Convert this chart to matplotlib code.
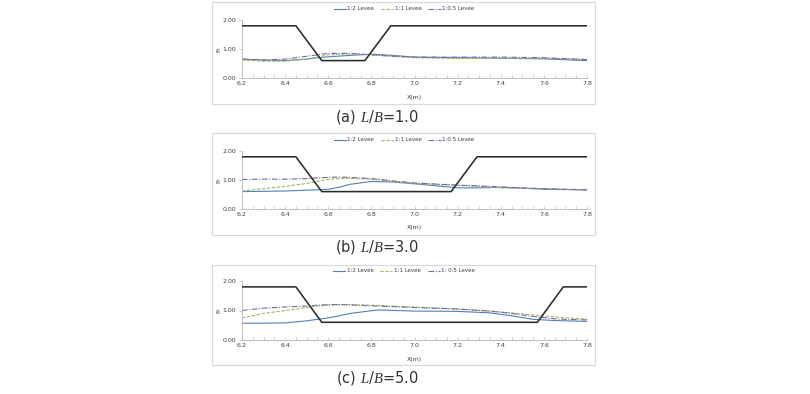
import matplotlib
matplotlib.use("Agg")
import matplotlib.pyplot as plt
from matplotlib.patches import Rectangle
import numpy as np

plt.rcParams['font.family'] = ['DejaVu Sans']
plt.rcParams['mathtext.fontset'] = 'custom'
plt.rcParams['mathtext.it'] = 'Liberation Serif:italic'
plt.rcParams['mathtext.rm'] = 'DejaVu Sans'

W, H = 810, 394

# ---- data ----
levee_x_a = [6.2, 6.45, 6.57, 6.77, 6.89, 7.8]
levee_y_a = [1.8, 1.8, 0.6, 0.6, 1.8, 1.8]
levee_x_b = [6.2, 6.45, 6.57, 7.17, 7.29, 7.8]
levee_y_b = [1.8, 1.8, 0.6, 0.6, 1.8, 1.8]
levee_x_c = [6.2, 6.45, 6.57, 7.57, 7.69, 7.8]
levee_y_c = [1.8, 1.8, 0.6, 0.6, 1.8, 1.8]

xa = [6.2, 6.3, 6.4, 6.5, 6.55, 6.6, 6.7, 6.8, 6.9, 7.0, 7.2, 7.4, 7.6, 7.8]
a_12 = [0.65, 0.62, 0.60, 0.65, 0.70, 0.73, 0.78, 0.82, 0.78, 0.72, 0.70, 0.68, 0.66, 0.60]
a_11 = [0.62, 0.58, 0.58, 0.65, 0.72, 0.80, 0.83, 0.80, 0.75, 0.70, 0.67, 0.68, 0.68, 0.65]
a_105 = [0.65, 0.62, 0.65, 0.75, 0.80, 0.85, 0.85, 0.80, 0.75, 0.72, 0.72, 0.72, 0.70, 0.63]

xb = [6.2, 6.3, 6.4, 6.5, 6.55, 6.6, 6.65, 6.7, 6.8, 6.9, 7.0, 7.1, 7.2, 7.3, 7.4, 7.5, 7.6, 7.8]
b_12 = [0.60, 0.61, 0.62, 0.65, 0.66, 0.68, 0.75, 0.85, 0.95, 0.93, 0.87, 0.80, 0.73, 0.73, 0.75, 0.72, 0.68, 0.66]
b_11 = [0.62, 0.70, 0.78, 0.88, 0.95, 1.02, 1.05, 1.06, 1.03, 0.95, 0.88, 0.85, 0.82, 0.78, 0.73, 0.71, 0.70, 0.66]
b_105 = [1.02, 1.03, 1.03, 1.05, 1.07, 1.09, 1.10, 1.09, 1.05, 0.97, 0.90, 0.86, 0.82, 0.80, 0.76, 0.73, 0.70, 0.66]

xc = [6.2, 6.3, 6.4, 6.5, 6.55, 6.6, 6.65, 6.7, 6.83, 7.0, 7.2, 7.35, 7.45, 7.55, 7.65, 7.7, 7.8]
c_12 = [0.57, 0.57, 0.58, 0.65, 0.70, 0.75, 0.82, 0.90, 1.02, 0.98, 0.97, 0.92, 0.82, 0.70, 0.66, 0.65, 0.63]
c_11 = [0.75, 0.90, 1.00, 1.10, 1.15, 1.18, 1.20, 1.20, 1.17, 1.12, 1.05, 0.98, 0.92, 0.85, 0.78, 0.76, 0.70]
c_105 = [1.00, 1.08, 1.12, 1.15, 1.18, 1.20, 1.20, 1.19, 1.15, 1.10, 1.05, 0.98, 0.90, 0.80, 0.72, 0.70, 0.68]

labels_ab = ["1:2 Levee", "1:1 Levee", "1:0.5 Levee"]
labels_c = ["1:2 Levee", "1:1 Levee", "1: 0.5 Levee"]
captions = ["(a) $\\mathit{L/B}$=1.0", "(b) $\\mathit{L/B}$=3.0", "(c) $\\mathit{L/B}$=5.0"]

panels = [
    dict(lx=levee_x_a, ly=levee_y_a, x=xa, s=[a_12, a_11, a_105], lab=labels_ab, cap=captions[0],
         box=(212, 2, 595, 104), ax_top=20, ax_bot=78, leg=9, xl=97, capy=117),
    dict(lx=levee_x_b, ly=levee_y_b, x=xb, s=[b_12, b_11, b_105], lab=labels_ab, cap=captions[1],
         box=(212, 133, 595, 235), ax_top=151, ax_bot=209, leg=140, xl=228, capy=247),
    dict(lx=levee_x_c, ly=levee_y_c, x=xc, s=[c_12, c_11, c_105], lab=labels_c, cap=captions[2],
         box=(212, 265, 595, 365), ax_top=281, ax_bot=340, leg=271, xl=359, capy=378),
]

colors = ['#4F81BD', '#9BBB59', '#8064A2']
styles = ['-', (0, (3, 1.5)), (0, (5, 1.5, 1, 1.5))]

fig = plt.figure(figsize=(W / 100, H / 100), dpi=100)

AX_L, AX_R = 242, 587

def fx(px):
    return px / W

def fy(py):
    return 1 - py / H

for p in panels:
    x0, y0, x1, y1 = p['box']
    fig.patches.append(Rectangle((fx(x0), fy(y1)), fx(x1 - x0), (y1 - y0) / H,
                                 transform=fig.transFigure, fill=False,
                                 edgecolor='#d9d9d9', linewidth=0.8))
    ax = fig.add_axes([fx(AX_L), fy(p['ax_bot']), fx(AX_R - AX_L), (p['ax_bot'] - p['ax_top']) / H])
    ax.plot(p['lx'], p['ly'], color='#2b2b2b', linewidth=1.15, zorder=3)
    handles = []
    for ser, c, ls, lab in zip(p['s'], colors, styles, p['lab']):
        h, = ax.plot(p['x'], ser, color=c, linestyle=ls, linewidth=0.8, label=lab, zorder=2)
        handles.append(h)
    ax.set_xlim(6.2, 7.8)
    ax.set_ylim(0, 2)
    ticks = np.arange(6.2, 7.81, 0.2)
    ax.set_xticks(ticks)
    ax.set_xticklabels([f"{v:.1f}" for v in ticks])
    ax.set_xticks(np.arange(6.2, 7.81, 0.05), minor=True)
    ax.set_yticks([0, 1, 2])
    ax.set_yticklabels(["0.00", "1.00", "2.00"])
    for s in ['top', 'right']:
        ax.spines[s].set_visible(False)
    for s in ['left', 'bottom']:
        ax.spines[s].set_color('#bfbfbf')
        ax.spines[s].set_linewidth(0.7)
    ax.tick_params(axis='both', labelsize=4.5, colors='#bfbfbf', labelcolor='#404040',
                   length=2, width=0.5, pad=2)
    ax.tick_params(axis='x', which='minor', length=2, width=0.5, colors='#bfbfbf', direction='in')
    ax.tick_params(axis='x', which='major', direction='in')
    ax.set_ylabel("Fr", fontsize=4.5, color='#404040', labelpad=1)
    fig.text(fx((AX_L + AX_R) / 2), fy(p['xl']), "X(m)", fontsize=4.5, color='#404040',
             ha='center', va='center')
    fig.legend(handles=handles, loc='center', bbox_to_anchor=(fx(404), fy(p['leg'])),
               ncol=3, frameon=False, fontsize=4, handlelength=2.2, handletextpad=0.3,
               columnspacing=1.2, labelcolor='#404040')
    fig.text(fx(377), fy(p['capy']), p['cap'], fontsize=10.5,
             color='#333333', ha='center', va='center')

fig.savefig("out.png", dpi=100)
